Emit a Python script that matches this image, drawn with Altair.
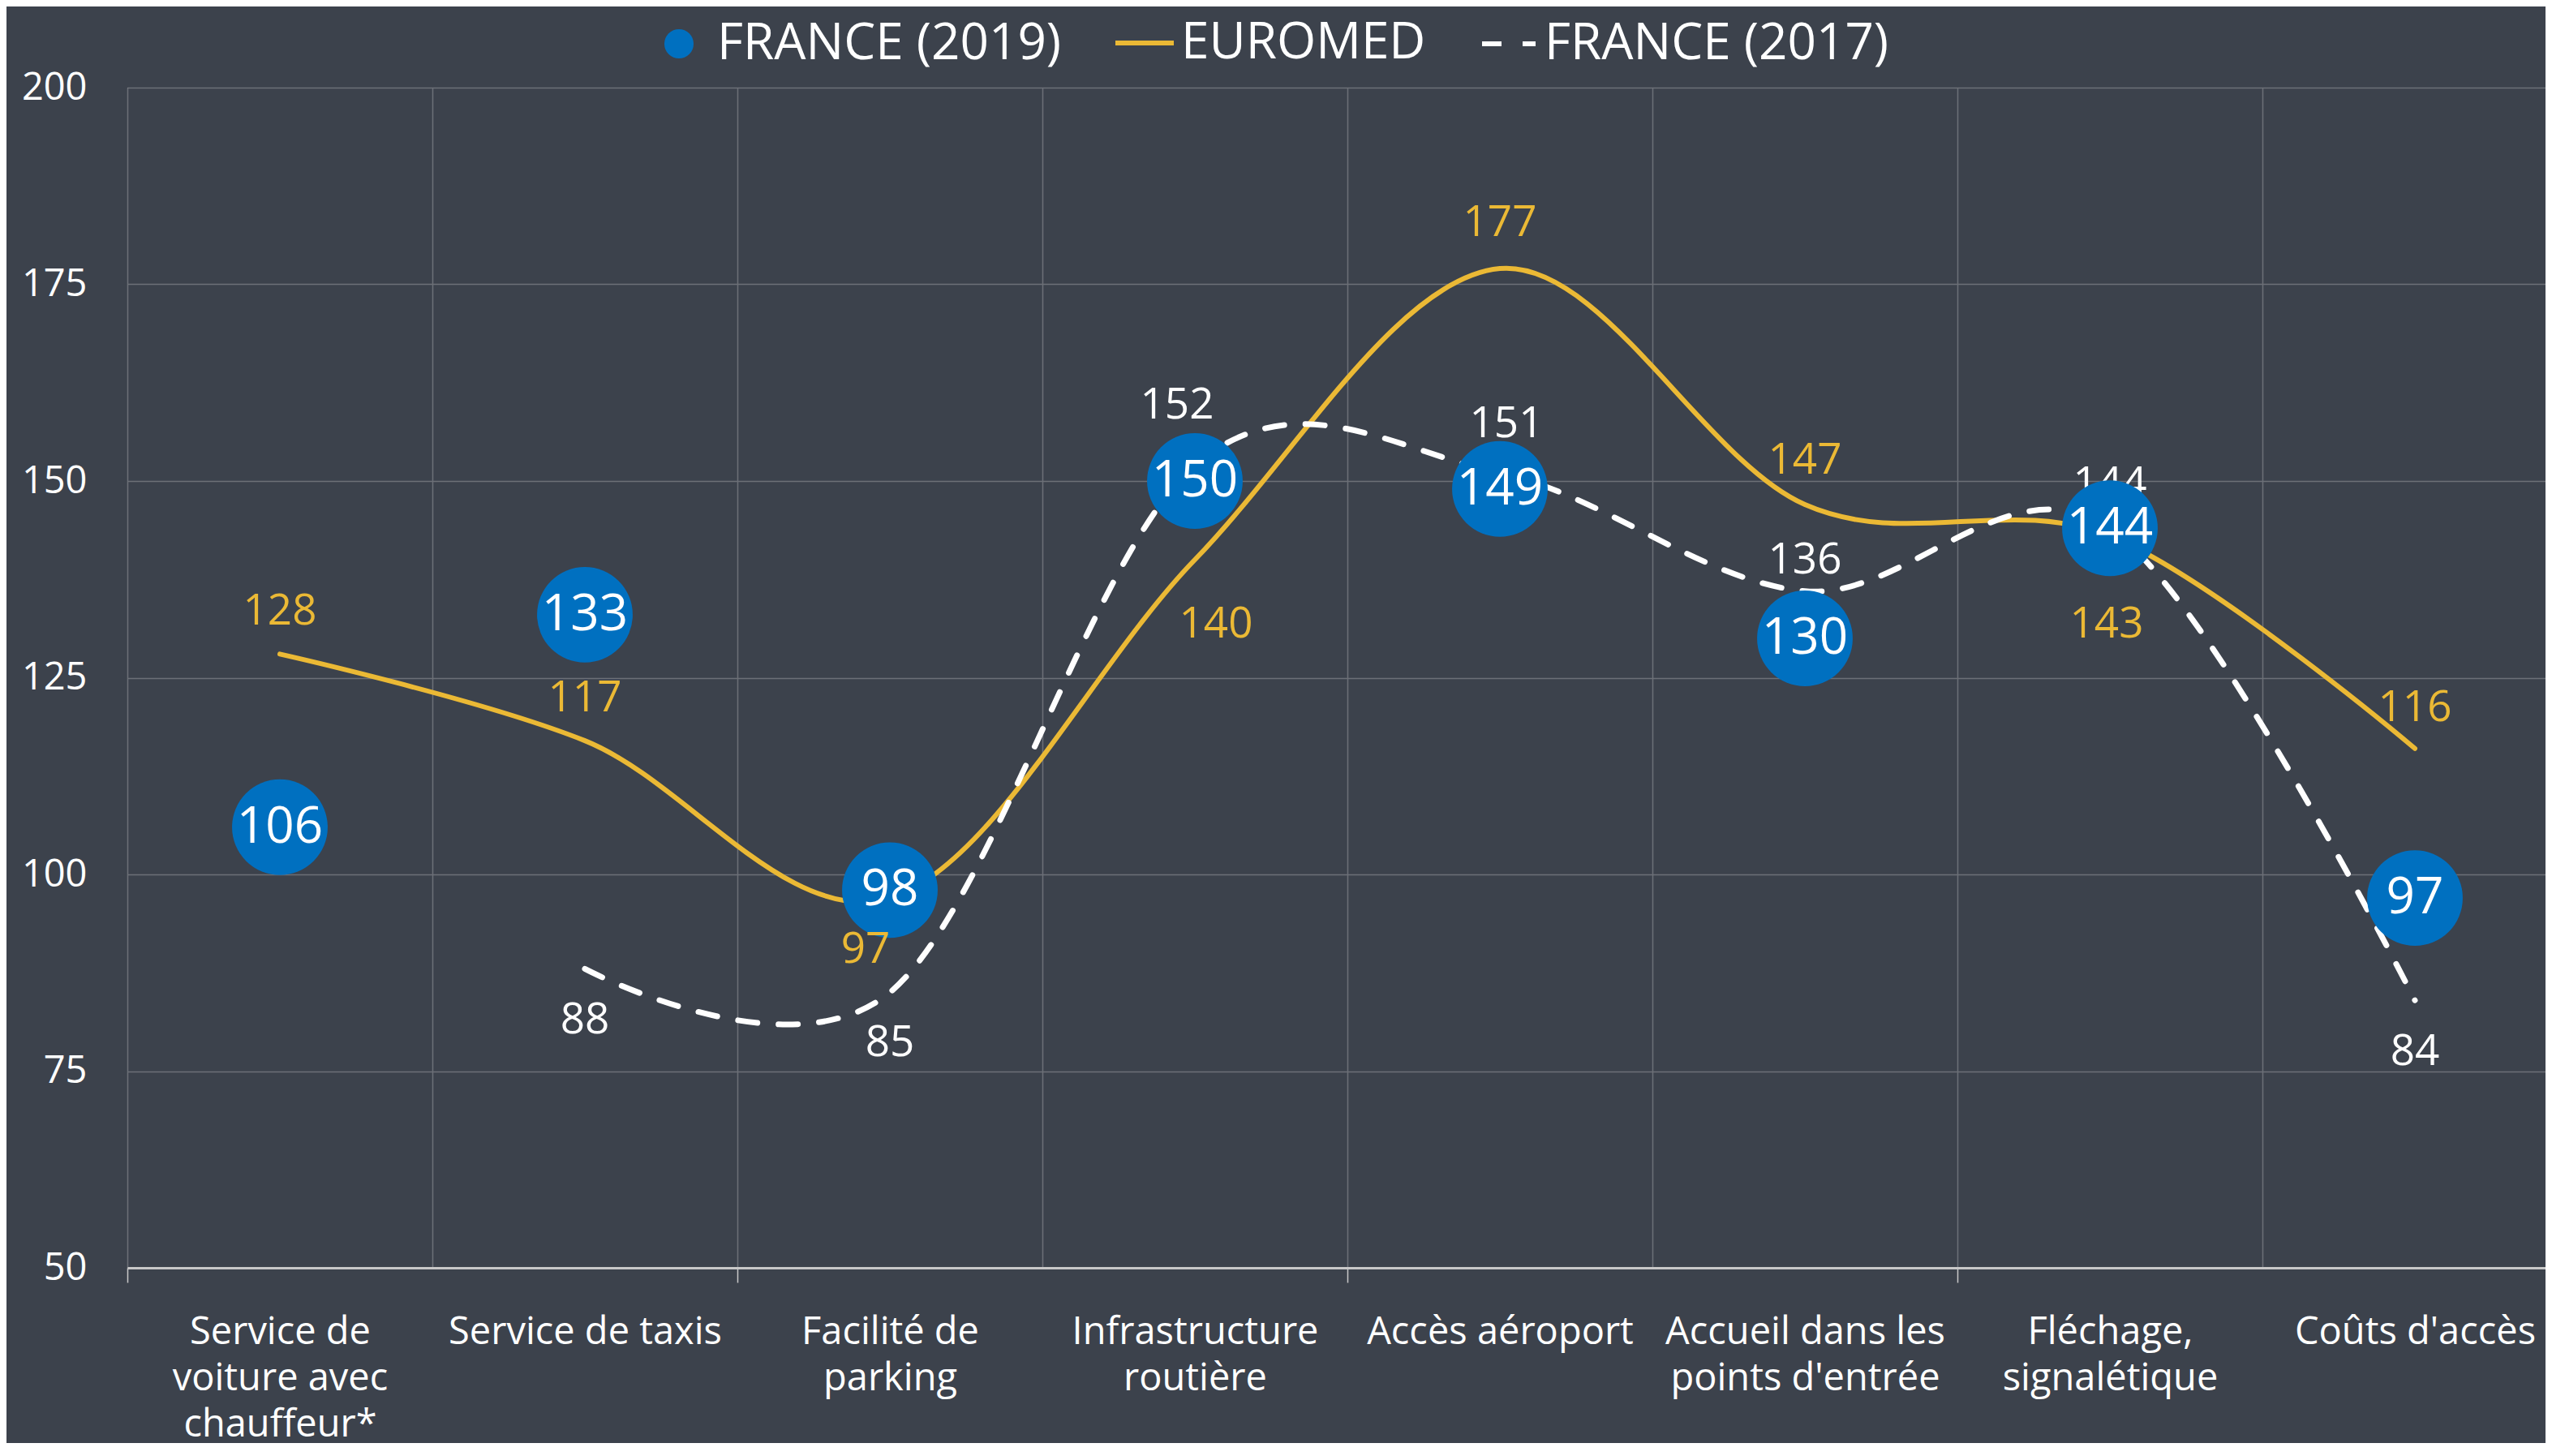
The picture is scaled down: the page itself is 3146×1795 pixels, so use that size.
import json
import altair as alt
import pandas as pd

# ---------------- data ----------------
CATEGORIES = [
    "Service de voiture avec chauffeur*",
    "Service de taxis",
    "Facilité de parking",
    "Infrastructure routière",
    "Accès aéroport",
    "Accueil dans les points d'entrée",
    "Fléchage, signalétique",
    "Coûts d'accès",
]
CATEGORY_LINES = [
    ["Service de", "voiture avec", "chauffeur*"],
    ["Service de taxis"],
    ["Facilité de", "parking"],
    ["Infrastructure", "routière"],
    ["Accès aéroport"],
    ["Accueil dans les", "points d'entrée"],
    ["Fléchage,", "signalétique"],
    ["Coûts d'accès"],
]
FRANCE_2019 = [106, 133, 98, 150, 149, 130, 144, 97]
EUROMED = [128, 117, 97, 140, 177, 147, 143, 116]
FRANCE_2017 = [None, 88, 85, 152, 151, 136, 144, 84]
SERIES = ["FRANCE (2019)", "EUROMED", "FRANCE (2017)"]
Y_TICKS = [50, 75, 100, 125, 150, 175, 200]

# ---------------- layout (pixels) ----------------
PLOT_W, PLOT_H = 2981, 1455
BAND = 376
Y_MIN, Y_MAX = 50, 200
PX_PER_UNIT = PLOT_H / (Y_MAX - Y_MIN)

EUROMED_LABEL_DY = [-52, -52, 64, 80, -56, -54, 109, -50]
EUROMED_LABEL_DX = [0, 0, -30, 26, 0, 0, -4, 0]
F2017_LABEL_DY = [0, 64, 62, -74, -60, -38, -54, 64]
F2017_LABEL_DX = [0, 0, 0, -22, 8, 0, 0, 0]

BG = "#3c424c"
GRID = "#6c7077"
BLUE = "#0070C0"
YELLOW = "#EBB935"
WHITE = "#FFFFFF"
FONT = "Open Sans"
DASH = [24, 26]

rows = []
for name, vals, dys, dxs in [
    (SERIES[0], FRANCE_2019, [0] * 8, [0] * 8),
    (SERIES[1], EUROMED, EUROMED_LABEL_DY, EUROMED_LABEL_DX),
    (SERIES[2], FRANCE_2017, F2017_LABEL_DY, F2017_LABEL_DX),
]:
    for i, (cat, v) in enumerate(zip(CATEGORIES, vals)):
        if v is None:
            continue
        rows.append({"series": name, "category": cat, "x": i + 0.5, "value": v,
                     "dy": dys[i], "dx": dxs[i]})
df = pd.DataFrame(rows)

lines_js = json.dumps(CATEGORY_LINES, ensure_ascii=False)
x_axis = alt.Axis(
    values=[i * 0.5 for i in range(16)],
    title=None,
    labelExpr=f"datum.value % 1 === 0 ? '' : {lines_js}[floor(datum.value)]",
    labelFontSize=47,
    labelColor=WHITE,
    labelFont=FONT,
    labelLineHeight=57,
    labelPadding=38,
    labelLimit=0,
    labelOverlap=False,
    labelFlush=False,
    labelBound=False,
    labelBaseline="top",
    tickSize=18,
    tickColor="#c8c8c8",
    tickWidth=1.5,
    tickOpacity={"condition": {"test": "datum.value % 2 === 0", "value": 1}, "value": 0},
    grid=True,
    gridColor=GRID,
    gridWidth=1.5,
    gridOpacity={"condition": {"test": "datum.value % 1 === 0", "value": 1}, "value": 0},
    domainColor="#c8c8c8",
    domainWidth=3,
)
y_axis = alt.Axis(
    values=Y_TICKS,
    title=None,
    ticks=False,
    domain=False,
    labelPadding=50,
    labelFontSize=47,
    labelColor=WHITE,
    labelFont=FONT,
    labelLimit=0,
    grid=True,
    gridColor=GRID,
    gridWidth=1.5,
)

X = alt.X("x:Q", scale=alt.Scale(domain=[0, PLOT_W / BAND], nice=False, zero=False), axis=x_axis)
Y = alt.Y("value:Q", scale=alt.Scale(domain=[Y_MIN, Y_MAX], nice=False, zero=False), axis=y_axis)

common_leg = dict(title=None, orient="none", direction="horizontal",
                  labelFontSize=62, labelColor=WHITE, labelFont=FONT, padding=0, labelLimit=0)

base = alt.Chart(df).encode(x=X, y=Y)

euromed_line = base.transform_filter(alt.datum.series == SERIES[1]).mark_line(
    interpolate="cardinal", strokeWidth=6, strokeCap="round"
).encode(
    stroke=alt.Stroke("series:N", scale=alt.Scale(domain=[SERIES[1]], range=[YELLOW]),
                      legend=alt.Legend(legendX=1215, legendY=-94, symbolType="stroke", symbolSize=5184,
                                        symbolStrokeWidth=6, labelOffset=6, **common_leg))
)

f2017_line = base.transform_filter(alt.datum.series == SERIES[2]).mark_line(
    interpolate="cardinal", strokeWidth=7, strokeCap="round", color=WHITE
).encode(
    strokeDash=alt.StrokeDash("series:N", scale=alt.Scale(domain=[SERIES[2]], range=[DASH]),
                              legend=alt.Legend(legendX=1667, legendY=-90, symbolType="stroke", symbolSize=4356,
                                                symbolStrokeWidth=6, symbolStrokeColor=WHITE,
                                                labelOffset=8, **common_leg))
)

label_pos = dict(
    lx=f"datum.x + datum.dx / {BAND}",
    ly=f"datum.value - datum.dy / {PX_PER_UNIT}",
)

f2017_labels = alt.Chart(df).transform_filter(alt.datum.series == SERIES[2]).transform_calculate(
    **label_pos
).mark_text(fontSize=53, color=WHITE, font=FONT, baseline="middle").encode(
    x=alt.X("lx:Q"), y=alt.Y("ly:Q"), text="value:Q"
)

circles = base.transform_filter(alt.datum.series == SERIES[0]).mark_circle(
    size=13900, opacity=1
).encode(
    color=alt.Color("series:N", scale=alt.Scale(domain=[SERIES[0]], range=[BLUE]),
                    legend=alt.Legend(legendX=649, legendY=-85, symbolType="circle", symbolSize=1300,
                                      symbolOpacity=1, labelOffset=16, **common_leg))
)

euromed_labels = alt.Chart(df).transform_filter(alt.datum.series == SERIES[1]).transform_calculate(
    **label_pos
).mark_text(fontSize=53, color=YELLOW, font=FONT, baseline="middle").encode(
    x=alt.X("lx:Q"), y=alt.Y("ly:Q"), text="value:Q"
)

circle_labels = base.transform_filter(alt.datum.series == SERIES[0]).mark_text(
    fontSize=62, color=WHITE, font=FONT, baseline="middle"
).encode(text="value:Q")

chart = alt.layer(
    euromed_line, f2017_line, f2017_labels, circles, euromed_labels, circle_labels
).properties(
    width=PLOT_W,
    height=PLOT_H,
    autosize="none",
    padding={"left": 149, "top": 100, "right": 0, "bottom": 216},
    background=BG,
).configure_view(stroke=None).configure(font=FONT)

chart.save("out.html", embed_options={"renderer": "svg", "actions": False})
